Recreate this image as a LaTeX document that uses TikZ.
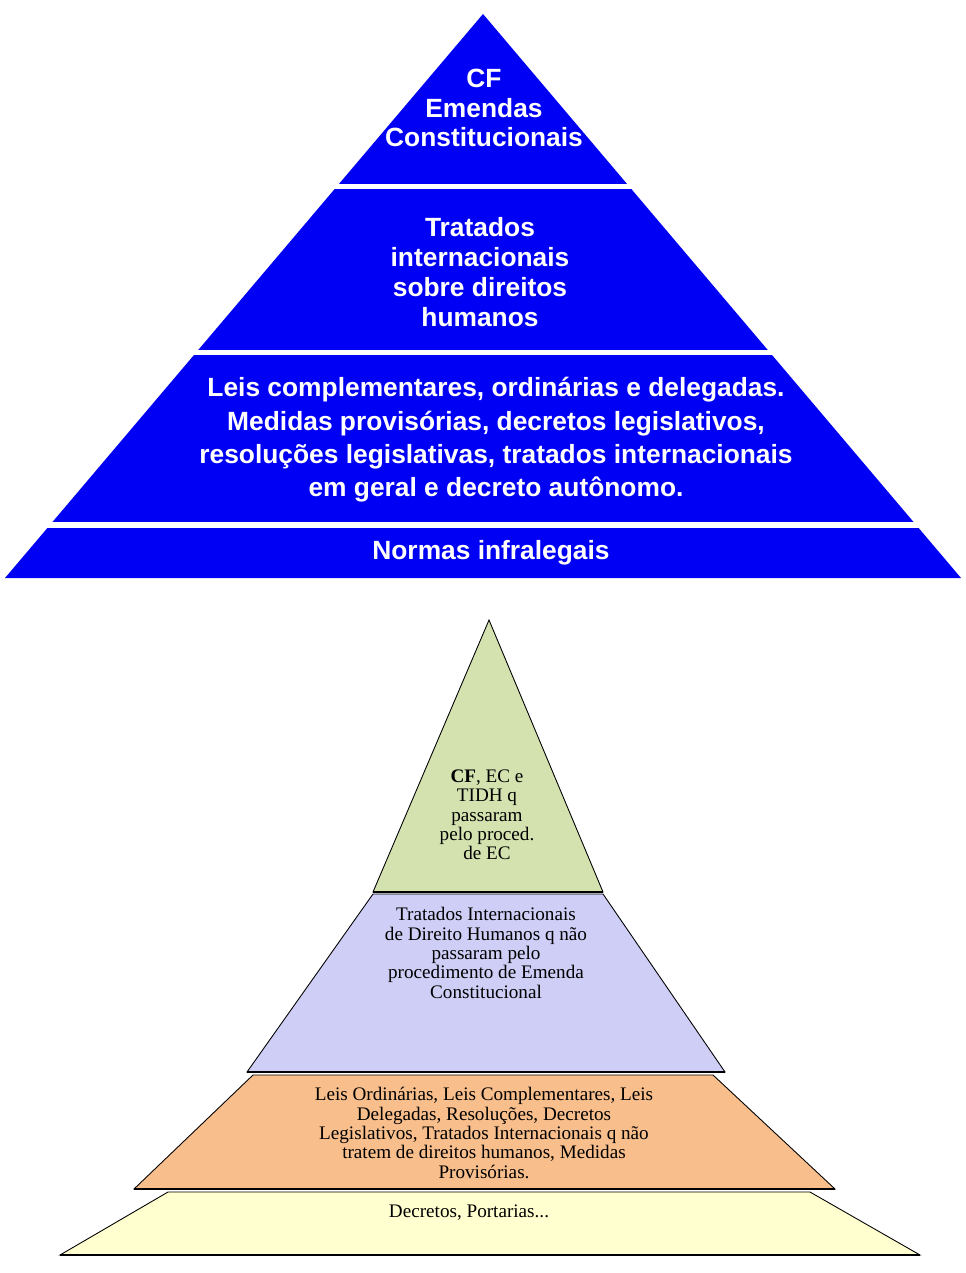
\documentclass[tikz,border=0pt]{standalone}
\usepackage{fontspec}
\setmainfont{Liberation Serif}
\newfontfamily\headfont{Liberation Sans}
\usepackage{tikz}
\usetikzlibrary{positioning,calc}
\definecolor{pyrblue}{RGB}{0,0,245}
\definecolor{tiergreen}{RGB}{212,226,176}
\definecolor{tierlilac}{RGB}{206,206,246}
\definecolor{tierorange}{RGB}{248,190,140}
\definecolor{tieryellow}{RGB}{255,255,208}
\tikzset{
  bluetier/.style={fill=pyrblue},
  gapbar/.style={fill=white},
  tier/.style={draw=black, line width=0.5pt, line join=miter},
  tierbase/.style={draw=black, line width=1.1pt},
  headtext/.style={text=white, align=center, font=\headfont\bfseries\fontsize{15}{17}\selectfont, inner sep=0pt},
  widetext/.style={headtext, font=\headfont\bfseries\fontsize{15}{19}\selectfont},
  tiertext/.style={align=center, font=\fontsize{10.9}{11}\selectfont, inner sep=0pt},
}
\begin{document}
\begin{tikzpicture}[x=0.02cm, y=-0.02cm]
  \useasboundingbox (0,0) rectangle (965,1273);

  % upper pyramid
  \fill[bluetier] (483,14) -- (961,578) -- (5,578) -- cycle;
  \fill[gapbar] (0,184) rectangle (965,189);
  \fill[gapbar] (0,350) rectangle (965,355);
  \fill[gapbar] (0,522) rectangle (965,528);

  \node[headtext] (cf) at (484,108) {CF\\Emendas\\Constitucionais};
  \node[headtext] (tratados) at (480,272) {Tratados\\internacionais\\sobre direitos\\humanos};
  \node[widetext] (leis) at (496,440) {Leis complementares, ordinárias e delegadas.\\Medidas provisórias, decretos legislativos,\\resoluções legislativas, tratados internacionais\\em geral e decreto autônomo.};
  \node[headtext] (normas) at (491,553) {Normas infralegais};

  % lower pyramid
  \filldraw[tier, fill=tiergreen] (489,620) -- (603,892) -- (373,892) -- cycle;
  \filldraw[tier, fill=tierlilac] (373,894) -- (603,894) -- (725,1072) -- (247,1072) -- cycle;
  \filldraw[tier, fill=tierorange] (253,1075) -- (713,1075) -- (835,1189) -- (134,1189) -- cycle;
  \filldraw[tier, fill=tieryellow] (168,1192) -- (810,1192) -- (920,1255) -- (60,1255) -- cycle;
  \draw[tierbase] (373,892) -- (603,892);
  \draw[tierbase] (247,1072) -- (725,1072);
  \draw[tierbase] (134,1189) -- (835,1189);
  \draw[tierbase] (60,1255) -- (920,1255);

  \node[tiertext] (ec) at (487,815) {\textbf{CF}, EC e\\TIDH q\\passaram\\pelo proced.\\de EC};
  \node[tiertext] (tidh) at (486,953) {Tratados Internacionais\\de Direito Humanos q não\\passaram pelo\\procedimento de Emenda\\Constitucional};
  \node[tiertext] (ordinarias) at (484,1133) {Leis Ordinárias, Leis Complementares, Leis\\Delegadas, Resoluções, Decretos\\Legislativos, Tratados Internacionais q não\\tratem de direitos humanos, Medidas\\Provisórias.};
  \node[tiertext] (decretos) at (469,1213) {Decretos, Portarias...};
\end{tikzpicture}
\end{document}
